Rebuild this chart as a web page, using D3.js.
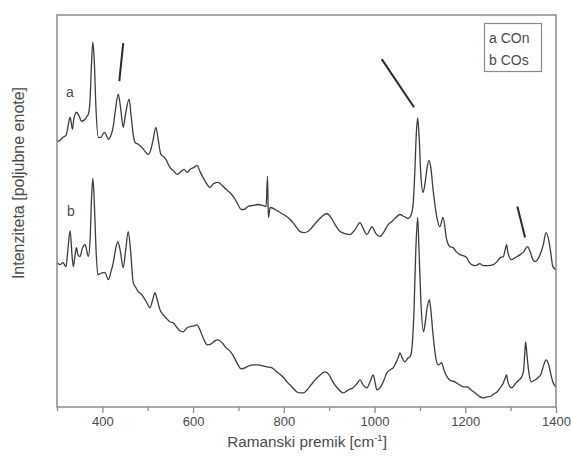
<!DOCTYPE html>
<html><head><meta charset="utf-8">
<script src="https://cdn.jsdelivr.net/npm/d3@7"></script>
<style>body{margin:0;background:#fff}svg{display:block}text{font-family:"Liberation Sans",Arial,sans-serif}</style>
</head><body><svg id="c" width="571" height="457"></svg>
<script>
// Raman shift (cm^-1) and intensity (arbitrary units) for trace a (COn)
const waveA = [300,307,313,320,324,329,334,337,343,349,354,362,366,369,373,376,379,382,386,391,397,404,408,413,419,424,429,435,440,446,451,459,463,468,472,479,487,494,501,507,512,518,523,529,534,540,549,558,565,571,580,587,593,602,609,615,624,631,637,646,655,664,673,681,690,699,706,712,721,732,743,754,761,764,766,770,781,792,803,814,825,836,845,853,862,873,884,895,904,913,924,935,946,957,968,974,983,990,994,1003,1012,1021,1030,1038,1047,1056,1065,1074,1080,1085,1089,1092,1095,1098,1102,1107,1111,1116,1120,1124,1129,1137,1144,1151,1159,1166,1173,1180,1188,1195,1203,1208,1214,1223,1232,1239,1250,1262,1270,1277,1284,1288,1291,1294,1302,1310,1321,1329,1337,1343,1349,1354,1365,1372,1378,1385,1389,1393,1400];
const intA = [266,267,270,272,280,290,278,288,295,291,286,288,291,293,308,343,365,348,298,270,270,275,273,268,272,281,298,313,300,280,293,308,293,273,265,263,260,256,253,258,268,280,268,253,251,248,240,236,233,235,238,235,238,240,242,236,228,223,220,224,225,222,218,215,210,203,198,198,201,202,203,202,201,231,190,200,198,195,192,188,182,176,175,176,180,186,191,194,190,183,176,174,173,178,185,180,173,178,181,174,171,176,183,186,190,193,191,189,192,203,238,273,289,273,233,215,223,240,247,240,218,191,181,190,168,161,160,156,153,152,150,146,143,142,144,142,142,143,146,150,151,158,163,155,148,150,153,156,161,156,148,146,153,163,175,165,153,141,138];
// trace b (COs)
const waveB = [300,307,313,320,324,329,333,336,340,343,346,351,355,362,366,369,373,376,379,382,386,390,395,401,406,413,419,424,429,434,439,446,451,457,462,468,474,479,487,498,505,511,516,521,527,534,540,549,556,565,571,578,587,593,602,609,615,624,631,640,648,655,664,673,681,690,699,706,714,723,732,743,754,763,774,785,796,807,818,829,836,843,851,860,869,880,891,900,908,920,931,942,952,961,968,975,983,990,997,1001,1005,1012,1021,1027,1034,1041,1047,1052,1056,1061,1067,1074,1078,1082,1087,1091,1095,1098,1102,1108,1111,1116,1121,1124,1129,1135,1140,1148,1153,1160,1166,1177,1188,1196,1204,1213,1222,1230,1239,1248,1257,1263,1270,1277,1284,1288,1291,1294,1302,1310,1316,1323,1328,1331,1333,1336,1340,1346,1354,1360,1367,1373,1378,1384,1389,1393,1400];
const intB = [145,143,145,141,158,177,153,141,153,160,153,151,158,163,156,151,168,208,229,208,158,133,134,135,135,128,136,145,158,166,158,140,156,176,158,125,120,116,113,105,100,108,115,108,98,93,90,86,85,80,77,76,80,81,82,83,78,68,63,64,67,68,65,60,57,51,43,39,40,42,43,43,42,41,40,36,32,26,21,16,15,15,18,23,28,33,36,33,26,19,15,18,20,24,28,23,20,26,33,26,18,20,28,35,38,40,45,50,55,50,46,50,51,58,98,158,190,158,108,76,83,100,108,98,73,50,43,45,38,31,28,26,23,21,21,18,15,12,10,11,12,14,16,20,25,30,33,26,20,24,27,30,36,53,66,53,36,26,28,30,34,43,48,43,33,26,21];
// x axis ticks
const majorTicks = [400,600,800,1000,1200,1400];
const minorTicks = [300,500,700,900,1100,1300];
// curve labels and legend
const curveLabels = [{t:"a", x:320, y:310}, {t:"b", x:322, y:192}];
const legendItems = ["a COn", "b COs"];
// arrows [x1,y1,x2,y2] in data units
const arrows = [[446,364,437.3,326],[1015.8,348,1087,300],[1314.8,201,1331.8,170]];

const svg = d3.select("#c");
const L=57, R=556, T=15, B=407;
const x = d3.scaleLinear().domain([300,1400]).range([L,R]);
const y = d3.scaleLinear().domain([0,392]).range([B+1,T]);
const textCol="#4a4a4a", frameCol="#8a8a8a";

const line = d3.line().x(d=>x(d[0])).y(d=>y(d[1])).curve(d3.curveMonotoneX);
[[waveA,intA],[waveB,intB]].forEach(([w,v])=>{
  svg.append("path").datum(d3.zip(w,v)).attr("d",line)
    .attr("fill","none").attr("stroke","#3c3c3c").attr("stroke-width",1.3).attr("stroke-linejoin","round");
});

// frame
svg.append("rect").attr("x",L).attr("y",T).attr("width",R-L).attr("height",B-T)
  .attr("fill","none").attr("stroke",frameCol).attr("stroke-width",1.5);

// x axis
const ax = svg.append("g").attr("transform",`translate(0,${B})`)
  .call(d3.axisBottom(x).tickValues(majorTicks).tickSize(6).tickPadding(4).tickFormat(d3.format("d")));
ax.select(".domain").remove();
ax.selectAll("line").attr("stroke",frameCol).attr("stroke-width",1.3);
ax.selectAll("text").attr("fill",textCol).attr("font-size",13).attr("font-family","Liberation Sans, Arial, sans-serif");
const axm = svg.append("g").attr("transform",`translate(0,${B})`)
  .call(d3.axisBottom(x).tickValues(minorTicks).tickSize(4).tickFormat(""));
axm.select(".domain").remove();
axm.selectAll("line").attr("stroke",frameCol).attr("stroke-width",1.3);

// axis titles
const xl = svg.append("text").attr("x",307).attr("y",447).attr("text-anchor","middle")
  .attr("fill",textCol).attr("font-size",15.3);
xl.append("tspan").text("Ramanski premik [cm");
xl.append("tspan").attr("dy",-6).attr("font-size",9.5).text("-1");
xl.append("tspan").attr("dy",6).text("]");
svg.append("text").attr("transform","translate(24,183) rotate(-90)").attr("text-anchor","middle")
  .attr("fill",textCol).attr("font-size",16).text("Intenziteta [poljubne enote]");

// curve labels
svg.selectAll(".cl").data(curveLabels).join("text").attr("class","cl")
  .attr("x",d=>x(d.x)).attr("y",d=>y(d.y)).attr("fill",textCol).attr("font-size",14).text(d=>d.t);

// arrows
svg.selectAll(".ar").data(arrows).join("line").attr("class","ar")
  .attr("x1",d=>x(d[0])).attr("y1",d=>y(d[1])).attr("x2",d=>x(d[2])).attr("y2",d=>y(d[3]))
  .attr("stroke","#2a2a2a").attr("stroke-width",2).attr("stroke-linecap","butt");

// legend
svg.append("rect").attr("x",484.5).attr("y",23.5).attr("width",57).attr("height",48)
  .attr("fill","#fff").attr("stroke",frameCol).attr("stroke-width",1.2);
svg.selectAll(".lg").data(legendItems).join("text").attr("class","lg")
  .attr("x",489).attr("y",(d,i)=>43+i*22).attr("fill",textCol).attr("font-size",14).text(d=>d);
</script></body></html>
